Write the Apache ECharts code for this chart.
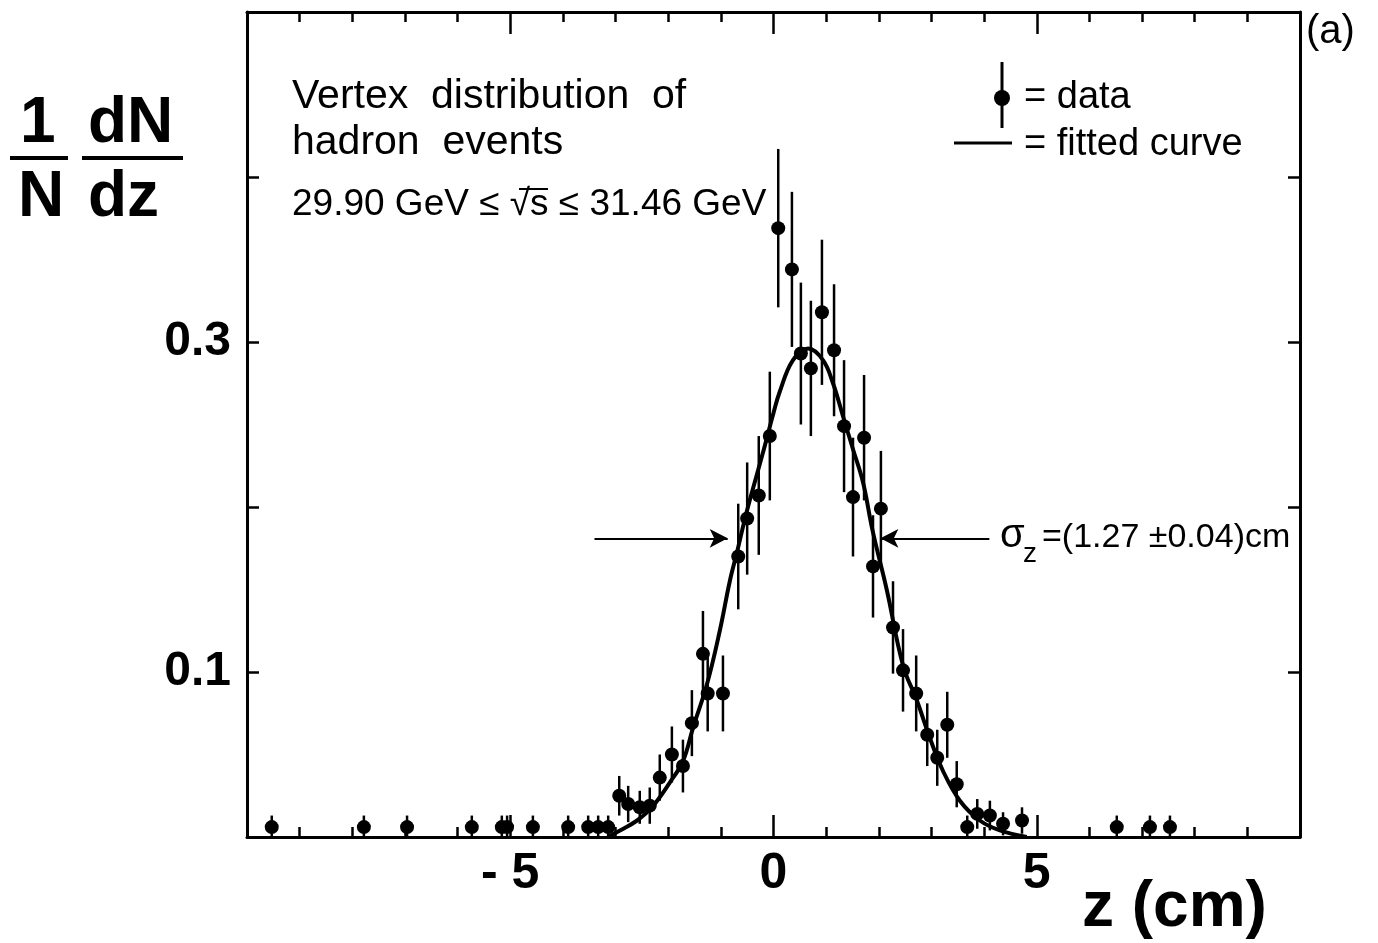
<!DOCTYPE html>
<html>
<head>
<meta charset="utf-8">
<script src="https://cdn.jsdelivr.net/npm/echarts@6/dist/echarts.min.js"></script>
<style>
  html, body { margin: 0; padding: 0; background: #fff; }
  #chart { width: 1378px; height: 943px; }
</style>
</head>
<body>
<div id="chart"></div>
<script>
// measured vertex positions z (cm), 1/N dN/dz and error
const zData = [-9.53, -7.78, -6.96, -5.73, -5.16, -5.06, -4.57, -3.90, -3.52, -3.33, -3.14,
  -2.93, -2.76, -2.54, -2.35, -2.16, -1.93, -1.72, -1.55, -1.34, -1.25, -0.96, -0.67, -0.50,
  -0.28, -0.07, 0.09, 0.35, 0.52, 0.71, 0.92, 1.15, 1.34, 1.51, 1.72, 1.89, 2.04, 2.27, 2.46,
  2.71, 2.92, 3.11, 3.30, 3.48, 3.68, 3.87, 4.11, 4.36, 4.72, 6.52, 7.15, 7.53];
const yData = [0.006, 0.006, 0.006, 0.006, 0.006, 0.006, 0.006, 0.006, 0.006, 0.006, 0.006,
  0.025, 0.020, 0.018, 0.019, 0.036, 0.050, 0.043, 0.069, 0.111, 0.087, 0.087, 0.170, 0.193,
  0.207, 0.243, 0.369, 0.344, 0.293, 0.284, 0.318, 0.295, 0.249, 0.206, 0.242, 0.164, 0.199, 0.127, 0.101,
  0.087, 0.062, 0.048, 0.068, 0.032, 0.006, 0.014, 0.013, 0.008, 0.010, 0.006, 0.006, 0.006];
const yErr = [0.007, 0.007, 0.007, 0.007, 0.007, 0.007, 0.007, 0.007, 0.007, 0.007, 0.007,
  0.012, 0.011, 0.010, 0.011, 0.014, 0.017, 0.016, 0.020, 0.026, 0.023, 0.023, 0.032, 0.034,
  0.036, 0.039, 0.048, 0.047, 0.043, 0.041, 0.044, 0.040, 0.040, 0.036, 0.038, 0.031, 0.035, 0.028, 0.025,
  0.023, 0.019, 0.017, 0.020, 0.014, 0.007, 0.009, 0.009, 0.007, 0.008, 0.007, 0.007, 0.007];

// fitted curve
const fitZ = [-3.15, -2.97, -2.59, -2.31, -1.97, -1.72, -1.53, -1.26, -1.02, -0.83, -0.69, -0.51,
  -0.20, 0.00, 0.12, 0.37, 0.66, 0.94, 1.13, 1.32, 1.51, 1.70, 1.88, 2.15, 2.46, 2.72, 2.97,
  3.22, 3.54, 3.92, 4.30, 4.81];
const fitY = [0.000, 0.003, 0.010, 0.018, 0.033, 0.046, 0.066, 0.093, 0.125, 0.155, 0.173, 0.197,
  0.233, 0.257, 0.270, 0.289, 0.296, 0.289, 0.275, 0.255, 0.235, 0.215, 0.186, 0.150, 0.104, 0.083, 0.060,
  0.040, 0.022, 0.010, 0.004, 0.000];

const xLabels = [-5, 0, 5];
const yLabels = [0.1, 0.3];

const FONT = '"Liberation Sans", Arial, sans-serif';

const points = zData.map((z, i) => [z, yData[i], yErr[i]]);
const fitted = fitZ.map((z, i) => [z, fitY[i]]);

const chart = echarts.init(document.getElementById('chart'));

const xAxisBase = {
  type: 'value', min: -10, max: 10, interval: 5,
  axisLine: { show: true, onZero: false, lineStyle: { color: '#000', width: 3 } },
  axisTick: { show: true, inside: true, length: 22, lineStyle: { color: '#000', width: 2.5 } },
  minorTick: { show: true, splitNumber: 5, length: 10, lineStyle: { color: '#000', width: 2.5 } },
  splitLine: { show: false },
  minorSplitLine: { show: false }
};
const yAxisBase = {
  type: 'value', min: 0, max: 0.5, interval: 0.1,
  axisLine: { show: true, onZero: false, lineStyle: { color: '#000', width: 3 } },
  axisTick: { show: true, inside: true, length: 12, lineStyle: { color: '#000', width: 2.5 } },
  splitLine: { show: false }
};

chart.setOption({
  animation: false,
  backgroundColor: '#fff',
  grid: { left: 247, right: 78, top: 12, bottom: 106 },
  xAxis: [
    Object.assign({}, xAxisBase, {
      position: 'bottom',
      axisLabel: {
        margin: 12, color: '#000', fontFamily: FONT, fontWeight: 'bold', fontSize: 50,
        formatter: v => xLabels.indexOf(v) >= 0 ? (v < 0 ? '- ' + Math.abs(v) : String(v)) : ''
      }
    }),
    Object.assign({}, xAxisBase, { position: 'top', axisLabel: { show: false } })
  ],
  yAxis: [
    Object.assign({}, yAxisBase, {
      position: 'left',
      axisLabel: {
        margin: 16, color: '#000', fontFamily: FONT, fontWeight: 'bold', fontSize: 48,
        formatter: v => yLabels.some(l => Math.abs(l - v) < 1e-9) ? v.toFixed(1) : ''
      }
    }),
    Object.assign({}, yAxisBase, { position: 'right', axisLabel: { show: false } })
  ],
  series: [
    {
      type: 'custom',
      clip: true,
      data: points,
      renderItem: (params, api) => {
        const x = api.value(0), y = api.value(1), e = api.value(2);
        const p1 = api.coord([x, y - e]);
        const p2 = api.coord([x, y + e]);
        return {
          type: 'line',
          shape: { x1: p1[0], y1: p1[1], x2: p2[0], y2: p2[1] },
          style: { stroke: '#000', lineWidth: 2.5 }
        };
      },
      z: 3
    },
    {
      type: 'scatter',
      data: points.map(p => [p[0], p[1]]),
      symbol: 'circle',
      symbolSize: 14,
      itemStyle: { color: '#000', opacity: 1 },
      z: 4
    },
    {
      type: 'line',
      data: fitted,
      smooth: 0.4,
      showSymbol: false,
      lineStyle: { color: '#000', width: 4 },
      z: 5,
      markLine: {
        silent: true,
        symbol: ['none', 'arrow'],
        symbolSize: [14, 18],
        label: { show: false },
        lineStyle: { color: '#000', width: 2, type: 'solid' },
        data: [
          [{ coord: [-3.4, 0.181] }, { coord: [-0.87, 0.181] }],
          [{ coord: [4.1, 0.181] }, { coord: [2.03, 0.181] }]
        ]
      }
    }
  ],
  graphic: [
    // y-axis title 1/N dN/dz
    { type: 'text', left: 20, top: 92, style: { text: '1', font: 'bold 64px ' + FONT, fill: '#000' } },
    { type: 'line', shape: { x1: 10, y1: 158, x2: 68, y2: 158 }, style: { stroke: '#000', lineWidth: 4 } },
    { type: 'text', left: 18, top: 166, style: { text: 'N', font: 'bold 64px ' + FONT, fill: '#000' } },
    { type: 'text', left: 88, top: 92, style: { text: 'dN', font: 'bold 64px ' + FONT, fill: '#000' } },
    { type: 'line', shape: { x1: 82, y1: 158, x2: 183, y2: 158 }, style: { stroke: '#000', lineWidth: 4 } },
    { type: 'text', left: 88, top: 166, style: { text: 'dz', font: 'bold 64px ' + FONT, fill: '#000' } },
    // x-axis title
    { type: 'text', left: 1082, top: 876, style: { text: 'z (cm)', font: 'bold 64px ' + FONT, fill: '#000' } },
    // panel tag
    { type: 'text', left: 1306, top: 12, style: { text: '(a)', font: '40px ' + FONT, fill: '#000' } },
    // description
    { type: 'text', left: 292, top: 76, style: { text: 'Vertex  distribution  of', font: '41px ' + FONT, fill: '#000' } },
    { type: 'text', left: 292, top: 122, style: { text: 'hadron  events', font: '41px ' + FONT, fill: '#000' } },
    { type: 'text', left: 292, top: 186, style: { text: '29.90 GeV ≤ √s ≤ 31.46 GeV', font: '37px ' + FONT, fill: '#000' } },
    { type: 'line', shape: { x1: 519, y1: 189, x2: 548, y2: 189 }, style: { stroke: '#000', lineWidth: 2 } },
    // legend
    { type: 'line', shape: { x1: 1002, y1: 62, x2: 1002, y2: 128 }, style: { stroke: '#000', lineWidth: 3 } },
    { type: 'circle', shape: { cx: 1002, cy: 98, r: 8 }, style: { fill: '#000' } },
    { type: 'text', left: 1024, top: 79, style: { text: '= data', font: '38px ' + FONT, fill: '#000' } },
    { type: 'line', shape: { x1: 954, y1: 143, x2: 1012, y2: 143 }, style: { stroke: '#000', lineWidth: 3 } },
    { type: 'text', left: 1024, top: 126, style: { text: '= fitted curve', font: '38px ' + FONT, fill: '#000' } },
    // sigma annotation
    { type: 'text', left: 1000, top: 516, style: { text: 'σ', font: '40px ' + FONT, fill: '#000' } },
    { type: 'text', left: 1023, top: 540, style: { text: 'z', font: '28px ' + FONT, fill: '#000' } },
    { type: 'text', left: 1042, top: 521, style: { text: '=(1.27 ±0.04)cm', font: '34px ' + FONT, fill: '#000' } }
  ]
});
</script>
</body>
</html>
